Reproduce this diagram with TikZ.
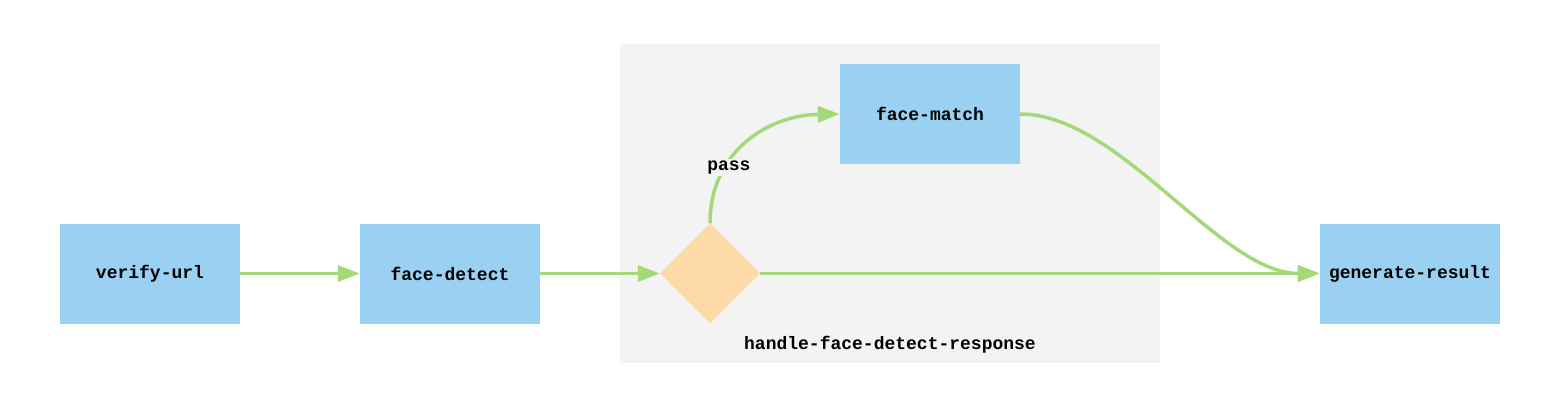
\documentclass[tikz,border=0pt]{standalone}
\usepackage{fontspec}
\setmonofont{Liberation Mono}
\usetikzlibrary{shapes.geometric,arrows.meta}
\definecolor{boxblue}{HTML}{9AD1F2}
\definecolor{lineg}{HTML}{A4D97A}
\definecolor{diam}{HTML}{FDDAA8}
\definecolor{grp}{HTML}{F3F3F3}
\tikzset{
  task/.style={fill=boxblue,minimum width=180pt,minimum height=100pt,inner sep=0pt,font=\fontsize{18}{21}\selectfont\ttfamily\bfseries},
  gate/.style={diamond,fill=diam,minimum width=100pt,minimum height=100pt,inner sep=0pt},
  flow/.style={draw=lineg,line width=3.5pt,-{Triangle[length=22pt,width=16pt]}},
  lbl/.style={font=\fontsize{18}{21}\selectfont\ttfamily\bfseries,inner sep=2pt}
}
\begin{document}
\begin{tikzpicture}[x=1pt,y=-1pt]
\useasboundingbox (0,0) rectangle (1546,404);
\fill[grp] (620,44) rectangle (1160,363);
\node[lbl] (glabel) at (890,345) {handle-face-detect-response};
\node[task] (verify) at (150,273.5) {verify-url};
\node[task] (detect) at (450,273.5) {face-detect};
\node[task] (match) at (930,114) {face-match};
\node[task] (result) at (1410,273.5) {generate-result};
\node[gate] (gate) at (710,273.5) {};
\draw[flow] (verify) -- (detect);
\draw[flow] (detect) -- (gate);
\draw[flow] (gate.east) -- (result.west);
\draw[flow] (gate.north) .. controls (710,150) and (770,115) .. node[pos=0.3,lbl,fill=grp,xshift=4pt]{pass} (match.west);
\draw[flow] (match.east) .. controls (1120,114) and (1220,273.5) .. (result.west);
\end{tikzpicture}
\end{document}
